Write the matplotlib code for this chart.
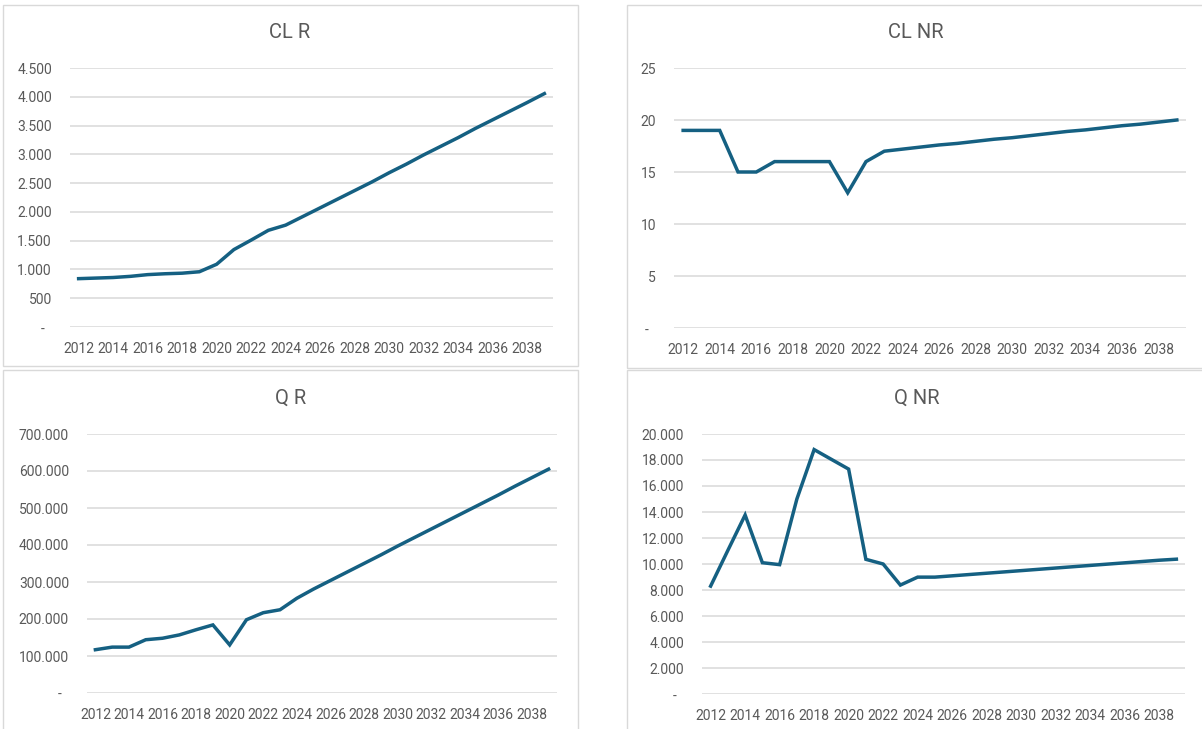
import matplotlib.pyplot as plt
from matplotlib.patches import Rectangle
from matplotlib.ticker import FuncFormatter

plt.rcParams['font.family'] = ['Roboto', 'DejaVu Sans']

# datos
years = list(range(2012, 2040))

cl_r = [840, 850, 860, 880, 910, 925, 935, 960, 1090, 1345, 1510, 1680, 1770,
        1920, 2070, 2220, 2370, 2520, 2680, 2830, 2990, 3140, 3290, 3450,
        3600, 3750, 3900, 4055]

cl_nr = [19, 19, 19, 15, 15, 16, 16, 16, 16, 13, 16, 17, 17.2,
         17.4, 17.6, 17.75, 17.95, 18.15, 18.3, 18.5, 18.7, 18.9, 19.05, 19.25,
         19.45, 19.6, 19.8, 20.0]

q_r = [117000, 124000, 124000, 144000, 148000, 157000, 171000, 184000, 130000,
       198000, 217000, 225000, 256000, 281000, 304000, 327000, 350000, 373000,
       397000, 420000, 443000, 466000, 489000, 512000, 535000, 559000, 582000,
       605000]

q_nr = [8300, 11050, 13770, 10100, 9950, 15000, 18800, 18050, 17300, 10360,
        10000, 8380, 8990, 8990, 9090, 9190, 9290, 9390, 9490, 9590, 9690,
        9790, 9890, 9990, 10090, 10190, 10290, 10370]

W, H = 1202, 729
LINE = '#156082'
GRID = '#D9D9D9'
TXT = '#595959'


def fmt_miles(v, pos):
    if abs(v) < 1e-9:
        return '-  '
    return f"{int(round(v)):,}".replace(',', '.')


def px_rect(x0, y0, x1, y1):
    # rectangulo en pixeles (origen arriba a la izquierda) -> fraccion de figura
    return [x0 / W, 1 - y1 / H, (x1 - x0) / W, (y1 - y0) / H]


fig = plt.figure(figsize=(W / 100, H / 100), dpi=100)

# marcos de los graficos (estilo Excel)
for (x0, y0, x1, y1) in [(3, 5, 578, 366), (627, 5, 1210, 368),
                         (3, 370, 578, 740), (627, 370, 1210, 740)]:
    fig.patches.append(Rectangle((x0 / W, 1 - y1 / H), (x1 - x0) / W, (y1 - y0) / H,
                                 transform=fig.transFigure, fill=False,
                                 edgecolor=GRID, linewidth=1.0))

panels = [
    ('CL R', cl_r, (70, 68, 553, 327), 4500, 500, (290, 32)),
    ('CL NR', cl_nr, (674, 68, 1186, 328), 25, 5, (916, 32)),
    ('Q R', q_r, (87, 434, 557, 693), 700000, 100000, (291, 398)),
    ('Q NR', q_nr, (702, 434, 1185, 694), 20000, 2000, (917, 398)),
]

for title, vals, box, ymax, step, tpos in panels:
    ax = fig.add_axes(px_rect(*box))
    xs = list(range(len(years)))
    ax.plot(xs, vals, color=LINE, linewidth=2.5, solid_joinstyle='miter', zorder=3)
    ax.set_xlim(-0.5, len(years) - 0.5)
    ax.set_ylim(0, ymax)
    ax.set_yticks([i * step for i in range(int(round(ymax / step)) + 1)])
    ax.yaxis.set_major_formatter(FuncFormatter(fmt_miles))
    ax.set_xticks(xs[::2])
    ax.set_xticklabels([str(y) for y in years[::2]])
    ax.grid(axis='y', color=GRID, linewidth=1.1)
    ax.set_axisbelow(True)
    for s in ax.spines.values():
        s.set_visible(False)
    ax.tick_params(length=0, labelsize=10, labelcolor=TXT)
    ax.tick_params(axis='y', pad=13)
    ax.tick_params(axis='x', pad=11)
    fig.text(tpos[0] / W, 1 - tpos[1] / H, title, ha='center', va='center',
             fontsize=14.5, color=TXT)

plt.savefig('out.png', dpi=100)
